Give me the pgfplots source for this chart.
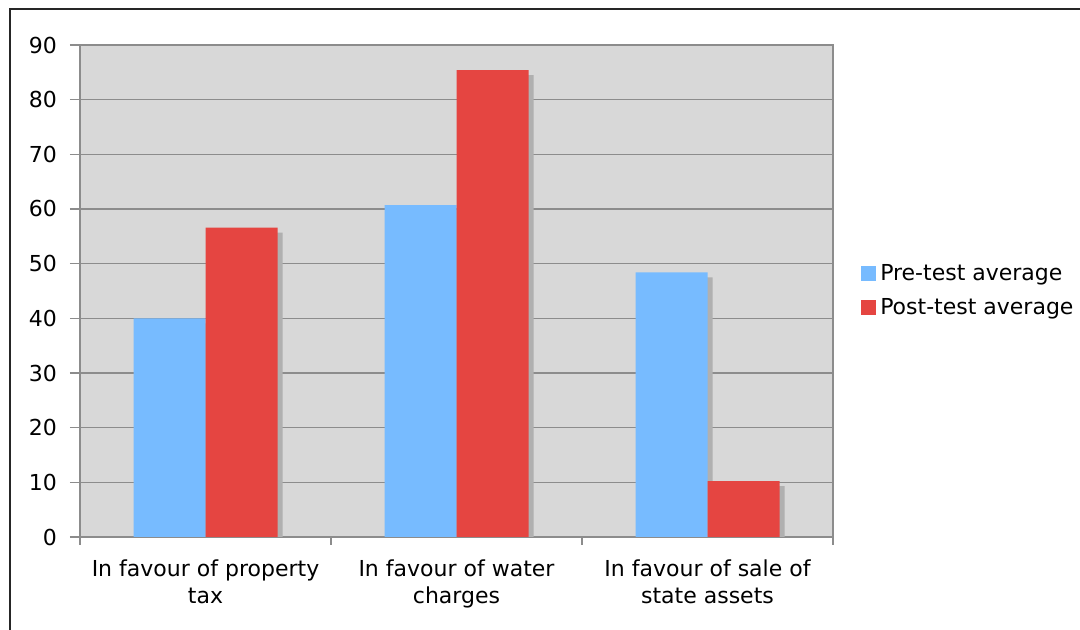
\documentclass[border=0pt]{standalone}
\usepackage{pgfplots}
\pgfplotsset{compat=1.18}
\usepackage{fontspec}
\setmainfont{DejaVu Sans}

\definecolor{plotbg}{HTML}{D8D8D8}
\definecolor{gridgray}{HTML}{8C8C8C}
\definecolor{preblue}{HTML}{77BBFF}
\definecolor{postred}{HTML}{E54541}
\definecolor{shadowgray}{HTML}{B0B0B0}

\begin{document}
\begin{tikzpicture}
\useasboundingbox (0,0) rectangle (540pt,315pt);
\draw[line width=1pt, black!85] (5pt,0) -- (5pt,310.5pt) -- (540pt,310.5pt);
\begin{axis}[
  at={(40pt,46.5pt)}, anchor=south west,
  scale only axis,
  width=376.5pt, height=246pt,
  font=\fontsize{11}{13.5}\selectfont,
  /pgf/number format/assume math mode=true,
  axis background/.style={fill=plotbg},
  axis line style={gridgray, line width=0.7pt},
  ymin=0, ymax=90, ytick={0,10,...,90},
  ymajorgrids, grid style={gridgray, line width=0.6pt},
  xmin=-0.5, xmax=2.5,
  xtick={0,1,2},
  xticklabels={In favour of property\\tax, In favour of water\\charges, In favour of sale of\\state assets},
  xticklabel style={align=center, yshift=-3pt},
  minor xtick={-0.5,0.5,1.5,2.5},
  tick align=outside,
  major x tick style={draw=none},
  minor tick length=4pt, major tick length=5pt,
  tick style={gridgray, line width=0.7pt},
  ytick pos=left, xtick pos=bottom,
  yticklabel style={xshift=-3pt},
  ybar, bar width=36pt,
  legend style={draw=none, fill=none, at={(1.029,0.5)}, anchor=west,
    row sep=3pt, font=\fontsize{11}{13.5}\selectfont},
  legend cell align=left,
  legend image code/.code={\fill[#1] (0pt,-3.5pt) rectangle (7.5pt,4pt);},
]
\addlegendimage{fill=preblue, draw=none}
\addlegendimage{fill=postred, draw=none}
\addplot[fill=preblue, draw=none, bar shift=-18pt, forget plot,
  preaction={fill=shadowgray, transform canvas={xshift=2.5pt, yshift=-2.5pt}}]
  coordinates {(0,40.0) (1,60.7) (2,48.4)};
\addplot[fill=postred, draw=none, bar shift=18pt, forget plot,
  preaction={fill=shadowgray, transform canvas={xshift=2.5pt, yshift=-2.5pt}}]
  coordinates {(0,56.6) (1,85.4) (2,10.2)};
\legend{Pre-test average, Post-test average}
\end{axis}
\end{tikzpicture}
\end{document}
